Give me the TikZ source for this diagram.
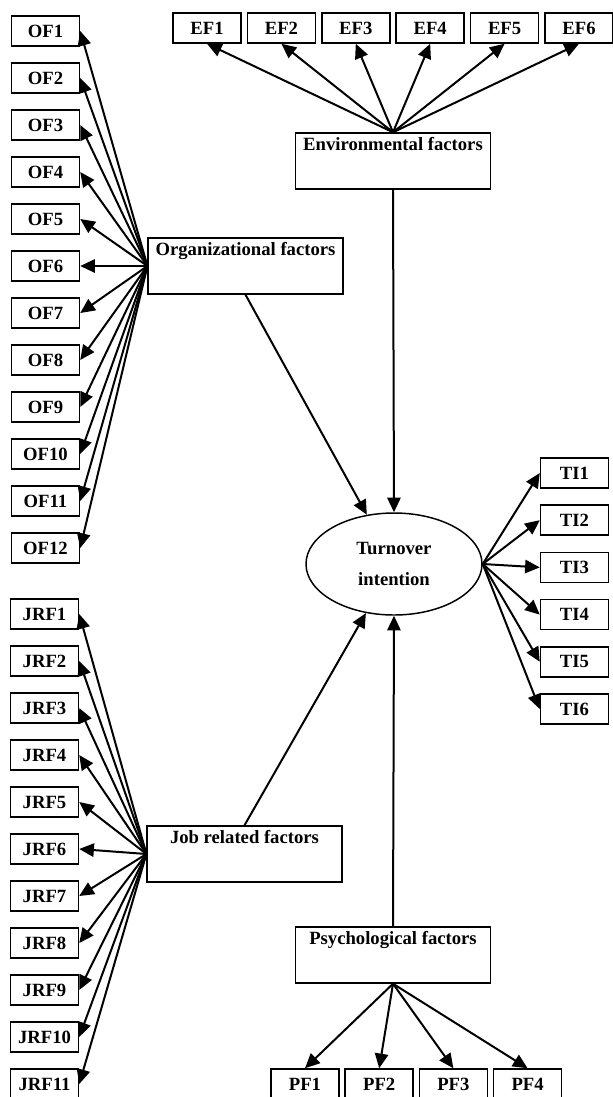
\documentclass[tikz,border=0pt]{standalone}
\usepackage{fontspec}
\setmainfont{Liberation Serif}
\usetikzlibrary{arrows.meta,shapes.geometric}
\begin{document}
\begin{tikzpicture}[x=0.75pt,y=-0.75pt,
  ind/.style={draw,line width=1.1pt,minimum width=51pt,minimum height=22.5pt,inner sep=0pt,
    font=\fontsize{14}{16}\bfseries},
  factor/.style={draw,line width=1.1pt,minimum width=146pt,inner xsep=0pt,inner ysep=3pt,
    text height=10pt,text depth=26pt,font=\fontsize{14}{16}\bfseries},
  latent/.style={draw,ellipse,line width=1.1pt,minimum width=132pt,minimum height=76.5pt,
    inner sep=0pt,align=center,font=\fontsize{14}{23}\bfseries},
  link/.style={line width=1.5pt,-{Triangle[length=11pt,width=10pt]}}]
                    \useasboundingbox (0,0) rectangle (613,1097);

                    % Drawing latent variable
                    \node [latent] (ti) at (394,564) {Turnover\\intention};%

                    % Drawing factor boxes
                    \node [factor] (org) at (245.5,266) {Organizational factors};%
                    \node [factor] (env) at (393,161) {Environmental factors};%
                    \node [factor] (job) at (244.5,854) {Job related factors};%
                    \node [factor] (psy) at (393,955) {Psychological factors};%

                    % Drawing indicators of organizational factors
                    \foreach \i in {1,...,12}
                      {\node [ind] (OF\i) at (45.5,{31+47*(\i-1)}) {OF\i};%
                       \draw [link] (org.west) -- (OF\i.east);}%

                    % Drawing indicators of job related factors
                    \foreach \i in {1,...,11}
                      {\node [ind] (JRF\i) at (44.5,{614+47*(\i-1)}) {JRF\i};%
                       \draw [link] (job.west) -- (JRF\i.east);}%

                    % Drawing indicators of environmental factors
                    \foreach \i in {1,...,6}
                      {\node [ind] (EF\i) at ({207+74.4*(\i-1)},28) {EF\i};%
                       \draw [link] (env.north) -- (EF\i.south);}%

                    % Drawing indicators of psychological factors
                    \foreach \i in {1,...,4}
                      {\node [ind] (PF\i) at ({305+74.2*(\i-1)},1084) {PF\i};%
                       \draw [link] (psy.south) -- (PF\i.north);}%

                    % Drawing indicators of turnover intention
                    \foreach \i in {1,...,6}
                      {\node [ind] (TI\i) at (574.5,{473+47.2*(\i-1)}) {TI\i};%
                       \draw [link] (ti.east) -- (TI\i.west);}%

                    % Drawing paths to turnover intention
                    \draw [link] (env.south) -- (ti.north);%
                    \draw [link] (psy.north) -- (ti.south);%
                    \draw [link] (org.south) -- (ti);%
                    \draw [link] (job.north) -- (ti);%
\end{tikzpicture}
\end{document}
